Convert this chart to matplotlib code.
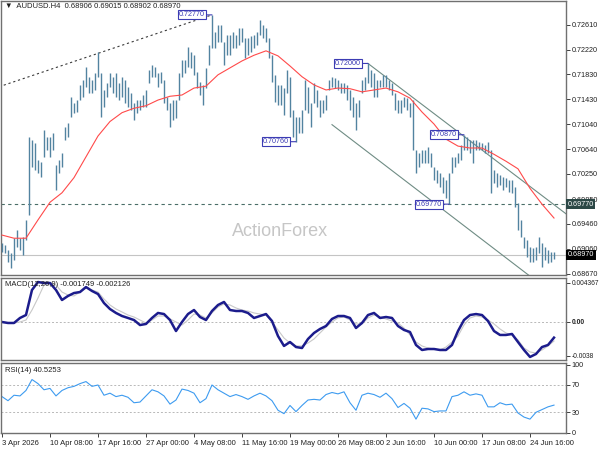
import matplotlib
matplotlib.use('Agg')
import matplotlib.pyplot as plt
import matplotlib.transforms as mtransforms
import numpy as np

plt.rcParams['font.family'] = ['Liberation Sans', 'DejaVu Sans']
plt.rcParams['font.size'] = 5.5

# ---------------- data (8-hour steps) ----------------
bar_high = [0.6915, 0.6912, 0.6904, 0.6900, 0.6923, 0.6936, 0.6923, 0.6925, 0.6952, 0.7084,
            0.7079, 0.7074, 0.7047, 0.7044, 0.7095, 0.7084, 0.7084, 0.7090, 0.7039, 0.7047,
            0.7058, 0.7099, 0.7106, 0.7147, 0.7137, 0.7142, 0.7166, 0.7174, 0.7194, 0.7179,
            0.7174, 0.7185, 0.7218, 0.7185, 0.7158, 0.7169, 0.7185, 0.7179, 0.7185, 0.7169,
            0.7179, 0.7174, 0.7163, 0.7153, 0.7137, 0.7142, 0.7142, 0.7150, 0.7158, 0.7190,
            0.7198, 0.7194, 0.7185, 0.7186, 0.7174, 0.7147, 0.7137, 0.7142, 0.7142, 0.7185,
            0.7206, 0.7206, 0.7226, 0.7218, 0.7213, 0.7186, 0.7171, 0.7166, 0.7193, 0.7229,
            0.7277, 0.7250, 0.7261, 0.7261, 0.7234, 0.7245, 0.7245, 0.7250, 0.7245, 0.7256,
            0.7256, 0.7240, 0.7240, 0.7244, 0.7245, 0.7250, 0.7269, 0.7261, 0.7256, 0.7240,
            0.7213, 0.7182, 0.7166, 0.7166, 0.7161, 0.7190, 0.7179, 0.7126, 0.7115, 0.7115,
            0.7126, 0.7174, 0.7163, 0.7137, 0.7169, 0.7158, 0.7142, 0.7142, 0.7150, 0.7174,
            0.7179, 0.7177, 0.7174, 0.7169, 0.7169, 0.7166, 0.7158, 0.7147, 0.7137, 0.7142,
            0.7174, 0.7179, 0.7200, 0.7190, 0.7185, 0.7174, 0.7174, 0.7182, 0.7182, 0.7174,
            0.7169, 0.7153, 0.7142, 0.7142, 0.7147, 0.7145, 0.7137, 0.7142, 0.7063, 0.7058,
            0.7063, 0.7063, 0.7068, 0.7058, 0.7036, 0.7031, 0.7026, 0.7020, 0.7015, 0.7026,
            0.7052, 0.7052, 0.7058, 0.7071, 0.7087, 0.7084, 0.7079, 0.7079, 0.7079, 0.7076,
            0.7074, 0.7071, 0.7076, 0.7063, 0.7031, 0.7026, 0.7023, 0.7020, 0.7019, 0.7015,
            0.7015, 0.7004, 0.6979, 0.6952, 0.6925, 0.6920, 0.6909, 0.6907, 0.6909, 0.6925,
            0.6915, 0.6909, 0.6904, 0.6901, 0.69015]
bar_low = [0.6901, 0.6900, 0.6885, 0.6876, 0.6889, 0.6909, 0.6904, 0.6896, 0.6920, 0.6960,
           0.7036, 0.7031, 0.7026, 0.7020, 0.7052, 0.7063, 0.7052, 0.7063, 0.6999, 0.7026,
           0.7036, 0.7079, 0.7084, 0.7115, 0.7122, 0.7123, 0.7142, 0.7147, 0.7163, 0.7153,
           0.7153, 0.7158, 0.7179, 0.7115, 0.7131, 0.7147, 0.7163, 0.7153, 0.7147, 0.7142,
           0.7147, 0.7137, 0.7131, 0.7126, 0.7110, 0.7122, 0.7126, 0.7131, 0.7131, 0.7169,
           0.7179, 0.7179, 0.7163, 0.7169, 0.7137, 0.7126, 0.7099, 0.7110, 0.7114, 0.7142,
           0.7179, 0.7185, 0.7194, 0.7193, 0.7182, 0.7161, 0.7150, 0.7134, 0.7161, 0.7198,
           0.7225, 0.7225, 0.7234, 0.7234, 0.7198, 0.7213, 0.7213, 0.7225, 0.7225, 0.7229,
           0.7234, 0.7209, 0.7213, 0.7218, 0.7225, 0.7229, 0.7245, 0.7240, 0.7234, 0.7209,
           0.7171, 0.7139, 0.7134, 0.7134, 0.7118, 0.7153, 0.7115, 0.7084, 0.7076, 0.7090,
           0.7090, 0.7126, 0.7122, 0.7099, 0.7137, 0.7131, 0.7115, 0.7122, 0.7126, 0.7158,
           0.7163, 0.7161, 0.7158, 0.7153, 0.7153, 0.7142, 0.7126, 0.7115, 0.7095, 0.7115,
           0.7153, 0.7158, 0.7169, 0.7163, 0.7147, 0.7147, 0.7163, 0.7163, 0.7163, 0.7158,
           0.7150, 0.7126, 0.7122, 0.7122, 0.7131, 0.7126, 0.7115, 0.7063, 0.7026, 0.7036,
           0.7042, 0.7042, 0.7042, 0.7036, 0.7015, 0.7011, 0.7004, 0.6995, 0.6987, 0.6977,
           0.7026, 0.7036, 0.7042, 0.7047, 0.7063, 0.7063, 0.7058, 0.7042, 0.7063, 0.7063,
           0.7063, 0.7058, 0.7058, 0.6995, 0.7011, 0.7004, 0.7007, 0.6999, 0.7004, 0.6996,
           0.6995, 0.6972, 0.6936, 0.6925, 0.6907, 0.6893, 0.6885, 0.6885, 0.6889, 0.6900,
           0.6877, 0.6889, 0.6884, 0.6885, 0.68902]

ma_values = [0.6928, 0.6923, 0.6923, 0.6952, 0.6980, 0.6995, 0.7019, 0.7052, 0.7085, 0.7108,
             0.7122, 0.7129, 0.7133, 0.7142, 0.7148, 0.7150, 0.7161, 0.7164, 0.7182, 0.7193,
             0.7204, 0.7213, 0.7220, 0.7212, 0.7196, 0.7179, 0.7166, 0.7158, 0.7161, 0.7160,
             0.7155, 0.7158, 0.7161, 0.7155, 0.7145, 0.7123, 0.7104, 0.7080, 0.7069, 0.7066,
             0.7066, 0.7056, 0.7045, 0.7033, 0.7002, 0.6977, 0.6955]
ma_step = 4

macd_values = [0.0, -0.00011, -0.00011, 0.00045, 0.00078, 0.00358, 0.00447, 0.00436, 0.00436, 0.00358,
               0.00246, 0.00291, 0.00324, 0.00335, 0.00391, 0.00347, 0.00313, 0.00212, 0.00145, 0.00101,
               0.00067, 0.00045, 0.00022, -0.00034, -0.00022, 0.00045, 0.00101, 0.00089, 0.00022, -0.00101,
               0.0, 0.00089, 0.00134, 0.00056, 0.00022, 0.00123, 0.00190, 0.00224, 0.00134, 0.00123,
               0.00123, 0.00101, 0.00045, 0.00067, 0.00089, 0.00011, -0.00157, -0.00268, -0.00224, -0.00280,
               -0.00291, -0.00190, -0.00123, -0.00078, -0.00045, 0.00034, 0.00067, 0.00067, 0.00045, -0.00067,
               -0.00011, 0.00078, 0.00101, 0.00045, 0.00056, 0.00045, -0.00045, -0.00089, -0.00112, -0.00257,
               -0.00313, -0.00302, -0.00302, -0.00313, -0.00313, -0.00257, -0.00101, 0.00022, 0.00078, 0.00089,
               0.00078, 0.00011, -0.00101, -0.00145, -0.00145, -0.00134, -0.00224, -0.00313, -0.00391, -0.00358,
               -0.00280, -0.00257, -0.001749]
signal_values = [0.0, -0.00011, -0.00011, 0.0, 0.00022, 0.00134, 0.00268, 0.00414, 0.00436, 0.00414,
                 0.00335, 0.00302, 0.00291, 0.00335, 0.00380, 0.00358, 0.00335, 0.00257, 0.00190, 0.00145,
                 0.00112, 0.00078, 0.00056, 0.00022, -0.00011, 0.00022, 0.00067, 0.00067, 0.00034, 0.0,
                 -0.00034, 0.00022, 0.00089, 0.00078, 0.00045, 0.00101, 0.00168, 0.00201, 0.00190, 0.00157,
                 0.00134, 0.00123, 0.00101, 0.00089, 0.00078, 0.0, -0.00089, -0.00179, -0.00235, -0.00268,
                 -0.00268, -0.00235, -0.00190, -0.00123, -0.00056, 0.0, 0.00045, 0.00056, 0.00022, -0.00022,
                 -0.00022, 0.00045, 0.00078, 0.00056, 0.00034, 0.00011, -0.00011, -0.00067, -0.00145, -0.00224,
                 -0.00268, -0.00291, -0.00302, -0.00313, -0.00280, -0.00224, -0.00157, -0.00034, 0.00045, 0.00067,
                 0.00056, 0.00022, -0.00022, -0.00078, -0.00123, -0.00145, -0.00201, -0.00291, -0.00335, -0.00347,
                 -0.00313, -0.00268, -0.002126]
rsi_values = [53, 47, 55, 54, 62, 78, 72, 63, 65, 54,
              62, 66, 68, 72, 75, 68, 70, 55, 58, 53,
              55, 52, 44, 45, 54, 63, 60, 54, 42, 48,
              64, 62, 58, 44, 50, 70, 63, 58, 53, 56,
              53, 49, 54, 58, 54, 47, 33, 28, 40, 31,
              40, 48, 49, 48, 56, 59, 57, 60, 44, 33,
              55, 58, 56, 52, 58, 50, 37, 43, 36, 20,
              36, 35, 31, 32, 32, 53, 55, 60, 55, 57,
              55, 38, 38, 44, 41, 42, 29, 23, 20, 30,
              34, 38, 40.5253]
ind_step = 2

time_labels = ['3 Apr 2026', '10 Apr 08:00', '17 Apr 16:00', '27 Apr 00:00', '4 May 08:00',
               '11 May 16:00', '19 May 00:00', '26 May 08:00', '2 Jun 16:00', '10 Jun 00:00',
               '17 Jun 08:00', '24 Jun 16:00']
time_tick_step = 16
price_ticks = [0.72610, 0.72220, 0.71830, 0.71430, 0.71040, 0.70640, 0.70250, 0.69850,
               0.69460, 0.69060, 0.68670]

# analyst drawings
trend_x = [-1, 70]
trend_y = [0.7163, 0.7277]
chan_up_x = [122, 188]
chan_up_y = [0.7200, 0.69617]
chan_lo_x = [110, 176]
chan_lo_y = [0.7103, 0.68628]
support_level = 0.69770
last_price = 0.68970
pivot_bars = [70, 122, 98, 154, 149]
pivot_prices = [0.72770, 0.72000, 0.70760, 0.70870, 0.69770]

# ---------------- figure ----------------
W, H = 600, 450
FS = 5.2
fig = plt.figure(figsize=(6, 4.5), dpi=100)


def box(x0, y0, x1, y1):
    return [x0 / W, 1 - y1 / H, (x1 - x0) / W, (y1 - y0) / H]


ax = fig.add_axes(box(1, 1, 566, 275))
axm = fig.add_axes(box(1, 278, 566, 360))
axr = fig.add_axes(box(1, 363, 566, 433))

n = len(bar_high)
xlim = (-0.33, 188)
for a in (ax, axm, axr):
    a.set_xlim(*xlim)
    a.yaxis.tick_right()
    a.tick_params(axis='y', length=3, width=0.6, pad=1.2, labelsize=FS,
                  colors='#202020')
    a.tick_params(axis='x', length=0)
    for s in a.spines.values():
        s.set_color('#707070')
        s.set_linewidth(1.0)
    a.set_xticks([])

# main price panel
ax.set_ylim(0.68647, 0.72990)
k = np.arange(n)
ax.vlines(k, bar_low, bar_high, color='#5283a0', lw=1.0, zorder=3)
ma_x = np.arange(len(ma_values)) * ma_step
ax.plot(ma_x, ma_values, color='#ff4a4a', lw=0.8, zorder=4)
ax.plot(trend_x, trend_y, color='#3a3a3a', lw=0.8, ls=(0, (2, 2.5)), zorder=2)
ax.plot(chan_up_x, chan_up_y, color='#6f8c84', lw=0.8, zorder=2)
ax.plot(chan_lo_x, chan_lo_y, color='#6f8c84', lw=0.8, zorder=2)
ax.axhline(support_level, color='#4a6e68', lw=0.8, ls=(0, (3, 3)), zorder=1)
ax.axhline(last_price, color='#c4c4c4', lw=0.8, zorder=1)
ax.set_yticks(price_ticks)
ax.set_yticklabels(['%.5f' % p for p in price_ticks])

for kb, pr in zip(pivot_bars, pivot_prices):
    ax.annotate('%.5f' % pr, xy=(kb, pr), xytext=(-7, 0), textcoords='offset pixels',
                ha='right', va='center', fontsize=FS, color='#3c3cb4',
                bbox=dict(boxstyle='square,pad=0.15', fc='white', ec='#3c3cb4', lw=0.8),
                arrowprops=dict(arrowstyle='-', color='#3c3cb4', lw=0.8,
                                shrinkA=0, shrinkB=0), zorder=6)

tr = mtransforms.blended_transform_factory(ax.transAxes, ax.transData)
ax.text(1.003, support_level, '%.5f' % support_level, transform=tr, ha='left', va='center',
        color='white', fontsize=FS, clip_on=False, zorder=10,
        bbox=dict(boxstyle='square,pad=0.2', fc='#2c4846', ec='none'))
ax.text(1.003, last_price, '%.5f' % last_price, transform=tr, ha='left', va='center',
        color='white', fontsize=FS, clip_on=False, zorder=10,
        bbox=dict(boxstyle='square,pad=0.2', fc='black', ec='none'))

ax.text(0.007, 0.993, '\u25bc  AUDUSD.H4  0.68906 0.69015 0.68902 0.68970',
        transform=ax.transAxes, ha='left', va='top', fontsize=5.5, color='#202020')
ax.text(0.494, 0.157, 'ActionForex', transform=ax.transAxes, ha='center', va='center',
        fontsize=13, color='#c6c6c6')

# MACD panel
axm.set_ylim(-0.00425, 0.00492)
mx = np.arange(len(macd_values)) * ind_step
axm.axhline(0, color='#b8b8b8', lw=0.7, ls=(0, (2, 2)))
axm.plot(mx, signal_values, color='#c8c8c8', lw=0.8)
axm.plot(mx, macd_values, color='#1c1c8c', lw=1.8)
axm.set_yticks([0.004367, 0.0, -0.0038])
axm.set_yticklabels(['0.004367', '0.00', '-0.0038'])
axm.tick_params(axis='y', labelsize=4.8, pad=0.8)
axm.get_yticklabels()[1].set_fontweight('bold')
axm.text(0.007, 0.96, 'MACD(12,26,9) -0.001749 -0.002126', transform=axm.transAxes,
         ha='left', va='top', fontsize=5.5, color='#202020')

# RSI panel
axr.set_ylim(-0.3, 102.2)
axr.axhline(70, color='#b8b8b8', lw=0.7, ls=(0, (2, 2)))
axr.axhline(30, color='#b8b8b8', lw=0.7, ls=(0, (2, 2)))
axr.plot(mx, rsi_values, color='#3d9bf0', lw=0.8)
axr.set_yticks([100, 70, 30, 0])
axr.set_yticklabels(['100', '70', '30', '0'])
axr.text(0.007, 0.95, 'RSI(14) 40.5253', transform=axr.transAxes,
         ha='left', va='top', fontsize=5.5, color='#202020')

tick_pos = np.arange(len(time_labels)) * time_tick_step
axr.set_xticks(tick_pos)
axr.set_xticklabels(time_labels, ha='left')
axr.tick_params(axis='x', length=3, width=0.6, pad=2, labelsize=5.5, colors='#202020')

fig.savefig('out.png', dpi=100, facecolor='white')
